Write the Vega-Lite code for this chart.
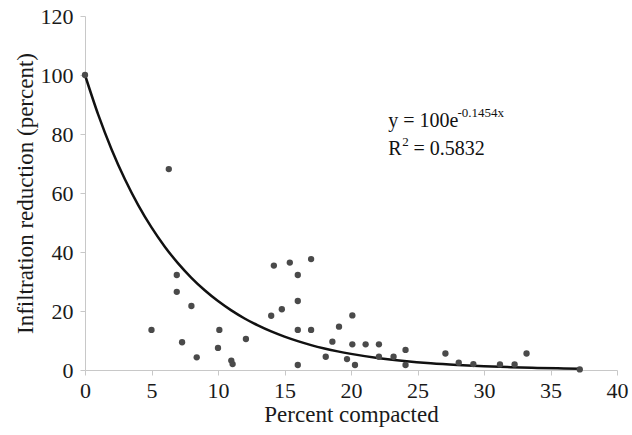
{
  "$schema": "https://vega.github.io/schema/vega-lite/v6.json",
  "width": 532,
  "height": 354,
  "autosize": {"type": "none"},
  "padding": {"left": 85, "top": 16, "right": 15, "bottom": 65},
  "background": "white",
  "config": {
    "view": {"stroke": null},
    "font": "Liberation Serif",
    "axis": {
      "labelFontSize": 22,
      "titleFontSize": 23,
      "labelColor": "#1a1a1a",
      "titleColor": "#1a1a1a",
      "titleFontWeight": "normal",
      "domainColor": "#c8c8c8",
      "tickColor": "#c8c8c8",
      "tickSize": 5,
      "grid": false
    },
    "text": {"font": "Liberation Serif"}
  },
  "datasets": {
    "points": [
      {"x": 0, "y": 100},
      {"x": 5.0, "y": 13.6},
      {"x": 6.3, "y": 68.1},
      {"x": 6.9, "y": 32.2},
      {"x": 6.9, "y": 26.5},
      {"x": 7.3, "y": 9.4},
      {"x": 8.0, "y": 21.7},
      {"x": 8.4, "y": 4.3},
      {"x": 10.0, "y": 7.5},
      {"x": 10.1, "y": 13.6},
      {"x": 11.0, "y": 3.2},
      {"x": 11.1, "y": 2.0},
      {"x": 12.1, "y": 10.5},
      {"x": 14.0, "y": 18.4},
      {"x": 14.2, "y": 35.4},
      {"x": 14.8, "y": 20.6},
      {"x": 15.4, "y": 36.4},
      {"x": 16.0, "y": 32.2},
      {"x": 16.0, "y": 23.4},
      {"x": 16.0, "y": 13.6},
      {"x": 16.0, "y": 1.7},
      {"x": 17.0, "y": 37.6},
      {"x": 17.0, "y": 13.6},
      {"x": 18.1, "y": 4.5},
      {"x": 18.6, "y": 9.6},
      {"x": 19.1, "y": 14.7},
      {"x": 19.7, "y": 3.7},
      {"x": 20.1, "y": 18.5},
      {"x": 20.1, "y": 8.7},
      {"x": 20.3, "y": 1.7},
      {"x": 21.1, "y": 8.7},
      {"x": 22.1, "y": 8.7},
      {"x": 22.1, "y": 4.5},
      {"x": 23.2, "y": 4.5},
      {"x": 24.1, "y": 6.8},
      {"x": 24.1, "y": 1.7},
      {"x": 27.1, "y": 5.6},
      {"x": 28.1, "y": 2.5},
      {"x": 29.2, "y": 2.0},
      {"x": 31.2, "y": 1.9},
      {"x": 32.3, "y": 1.9},
      {"x": 33.2, "y": 5.6},
      {"x": 37.2, "y": 0.2}
    ],
    "curve": [
      {"x": 0, "y": 100}, {"x": 1, "y": 86.47}, {"x": 2, "y": 74.77}, {"x": 3, "y": 64.65},
      {"x": 4, "y": 55.90}, {"x": 5, "y": 48.34}, {"x": 6, "y": 41.80}, {"x": 7, "y": 36.14},
      {"x": 8, "y": 31.25}, {"x": 9, "y": 27.02}, {"x": 10, "y": 23.37}, {"x": 11, "y": 20.21},
      {"x": 12, "y": 17.47}, {"x": 13, "y": 15.11}, {"x": 14, "y": 13.06}, {"x": 15, "y": 11.30},
      {"x": 16, "y": 9.77}, {"x": 17, "y": 8.44}, {"x": 18, "y": 7.30}, {"x": 19, "y": 6.31},
      {"x": 20, "y": 5.46}, {"x": 22, "y": 4.08}, {"x": 24, "y": 3.05}, {"x": 26, "y": 2.28},
      {"x": 28, "y": 1.71}, {"x": 30, "y": 1.27}, {"x": 32, "y": 0.95}, {"x": 34, "y": 0.71},
      {"x": 36, "y": 0.53}, {"x": 37.2, "y": 0.45}
    ],
    "one": [{}]
  },
  "layer": [
    {
      "data": {"name": "curve"},
      "mark": {"type": "line", "color": "#111111", "strokeWidth": 2.5, "interpolate": "monotone"},
      "encoding": {
        "x": {"field": "x", "type": "quantitative",
              "scale": {"domain": [0, 40], "nice": false},
              "axis": {"values": [0, 5, 10, 15, 20, 25, 30, 35, 40], "title": "Percent compacted", "labelFont": "Liberation Serif", "titleFont": "Liberation Serif", "labelPadding": 5, "titlePadding": 2, "labelFlush": false}},
        "y": {"field": "y", "type": "quantitative",
              "scale": {"domain": [0, 120], "nice": false},
              "axis": {"values": [0, 20, 40, 60, 80, 100, 120], "title": "Infiltration reduction (percent)", "labelFont": "Liberation Serif", "titleFont": "Liberation Serif", "labelPadding": 7, "titlePadding": 3, "labelFlush": false}}
      }
    },
    {
      "data": {"name": "points"},
      "mark": {"type": "circle", "size": 40, "color": "#4a4a4a", "opacity": 1},
      "encoding": {
        "x": {"field": "x", "type": "quantitative"},
        "y": {"field": "y", "type": "quantitative"}
      }
    },
    {
      "data": {"name": "one"},
      "mark": {"type": "text", "text": "y = 100e", "fontSize": 20, "align": "left", "baseline": "alphabetic", "color": "#111111"},
      "encoding": {"x": {"datum": 22.8}, "y": {"datum": 82.4}}
    },
    {
      "data": {"name": "one"},
      "mark": {"type": "text", "text": "-0.1454x", "fontSize": 13, "align": "left", "baseline": "alphabetic", "color": "#111111"},
      "encoding": {"x": {"datum": 28.0}, "y": {"datum": 85.8}}
    },
    {
      "data": {"name": "one"},
      "mark": {"type": "text", "text": "R", "fontSize": 20, "align": "left", "baseline": "alphabetic", "color": "#111111"},
      "encoding": {"x": {"datum": 22.8}, "y": {"datum": 72.9}}
    },
    {
      "data": {"name": "one"},
      "mark": {"type": "text", "text": "2", "fontSize": 13, "align": "left", "baseline": "alphabetic", "color": "#111111"},
      "encoding": {"x": {"datum": 23.85}, "y": {"datum": 76.0}}
    },
    {
      "data": {"name": "one"},
      "mark": {"type": "text", "text": "= 0.5832", "fontSize": 20, "align": "left", "baseline": "alphabetic", "color": "#111111"},
      "encoding": {"x": {"datum": 24.7}, "y": {"datum": 72.9}}
    }
  ]
}
